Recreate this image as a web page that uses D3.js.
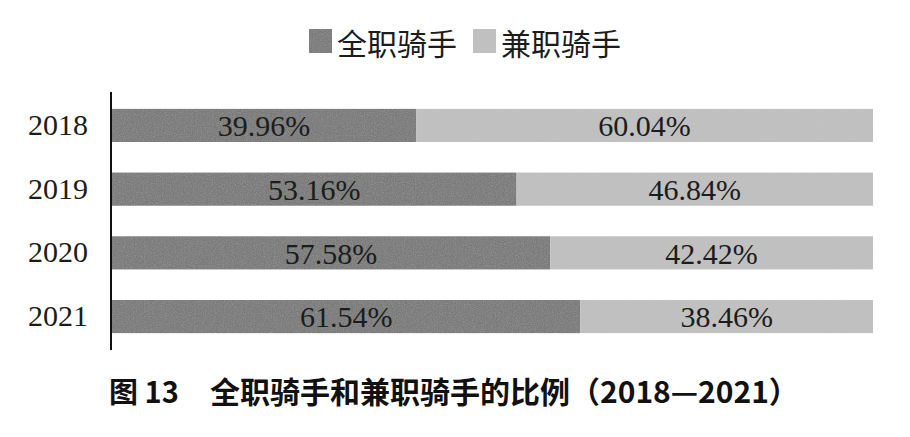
<!DOCTYPE html>
<html>
<head>
<meta charset="utf-8">
<script src="https://cdn.jsdelivr.net/npm/d3@7"></script>
<style>
  body { margin: 0; background: #fff; }
  svg { display: block; }
</style>
</head>
<body>
<svg id="chart" width="910" height="437"></svg>
<script>
// data
var years = ['2018', '2019', '2020', '2021'];
var fullTime = [39.96, 53.16, 57.58, 61.54];
var partTime = [60.04, 46.84, 42.42, 38.46];
var seriesNames = ['全职骑手', '兼职骑手'];
var seriesColors = ['#7a7a7a', '#c1c1c1'];
var captionNo = '图 13';
var captionText = '全职骑手和兼职骑手的比例（2018—2021）';

var svg = d3.select('#chart');

// scan-like grain
var defs = svg.append('defs');
var grain = defs.append('filter').attr('id', 'grain')
    .attr('x', 0).attr('y', 0).attr('width', 1).attr('height', 1);
grain.append('feTurbulence')
    .attr('type', 'fractalNoise')
    .attr('baseFrequency', 0.9)
    .attr('numOctaves', 2)
    .attr('seed', 3)
    .attr('result', 'noise');
grain.append('feColorMatrix')
    .attr('in', 'noise')
    .attr('type', 'matrix')
    .attr('values', '0 0 0 0 0.5  0 0 0 0 0.5  0 0 0 0 0.5  0.35 0.35 0.35 0 -0.45')
    .attr('result', 'speck');
grain.append('feComposite')
    .attr('in', 'speck')
    .attr('in2', 'SourceGraphic')
    .attr('operator', 'in')
    .attr('result', 'speckIn');
grain.append('feMerge').selectAll('feMergeNode')
    .data(['SourceGraphic', 'speckIn'])
    .enter().append('feMergeNode')
    .attr('in', function (d) { return d; });

var x = d3.scaleLinear().domain([0, 100]).range([112, 873]);
var y = d3.scaleBand().domain(years).range([92, 350])
    .paddingInner(0.48).paddingOuter(0.265);

var rows = years.map(function (yr, i) {
    return { year: yr, values: [fullTime[i], partTime[i]] };
});

var stacked = [];
rows.forEach(function (r) {
    var start = 0;
    r.values.forEach(function (v, k) {
        stacked.push({ year: r.year, k: k, x0: start, x1: start + v, v: v });
        start += v;
    });
});

/*============ BARS ============*/

svg.append('g').attr('class', 'bars')
    .selectAll('rect')
    .data(stacked)
    .enter().append('rect')
    .attr('x', function (d) { return x(d.x0); })
    .attr('y', function (d) { return y(d.year); })
    .attr('width', function (d) { return x(d.x1) - x(d.x0); })
    .attr('height', y.bandwidth())
    .attr('fill', function (d) { return seriesColors[d.k]; })
    .attr('filter', 'url(#grain)');

svg.append('g').attr('class', 'values')
    .selectAll('text')
    .data(stacked)
    .enter().append('text')
    .attr('x', function (d) { return (x(d.x0) + x(d.x1)) / 2; })
    .attr('y', function (d) { return y(d.year) + y.bandwidth() / 2; })
    .attr('dy', '0.36em')
    .attr('text-anchor', 'middle')
    .style('font-family', '"Liberation Serif", "Times New Roman", serif')
    .style('font-size', '30px')
    .attr('fill', '#1c1c1c')
    .text(function (d) { return d.v.toFixed(2) + '%'; });

/*============ AXIS ============*/

var yAxis = svg.append('g')
    .attr('transform', 'translate(111,0)')
    .call(d3.axisLeft(y).tickSize(0).tickPadding(23));

yAxis.select('.domain')
    .attr('d', 'M0,92V350')
    .attr('stroke', '#111')
    .attr('stroke-width', 2);

yAxis.selectAll('text')
    .style('font-family', '"Liberation Serif", "Times New Roman", serif')
    .style('font-size', '30px')
    .attr('fill', '#1c1c1c');

/*============ LEGEND ============*/

var legendX = [309, 473];
var legend = svg.append('g').attr('class', 'legend')
    .selectAll('g')
    .data(seriesNames)
    .enter().append('g')
    .attr('transform', function (d, i) { return 'translate(' + legendX[i] + ',29)'; });

legend.append('rect')
    .attr('width', 23)
    .attr('height', 24)
    .attr('fill', function (d, i) { return seriesColors[i]; })
    .attr('filter', 'url(#grain)');

legend.append('text')
    .attr('x', 28)
    .attr('y', 15)
    .attr('dy', '0.36em')
    .style('font-family', '"Noto Sans CJK SC", sans-serif')
    .style('font-size', '30px')
    .attr('fill', '#1c1c1c')
    .text(function (d) { return d; });

/*============ CAPTION ============*/

var cap = svg.append('g').attr('class', 'caption')
    .style('font-family', '"Noto Sans CJK SC", sans-serif')
    .style('font-weight', 'bold')
    .attr('fill', '#111');

cap.append('text').attr('x', 109).attr('y', 403)
    .style('font-size', '29px').text(captionNo);
cap.append('text').attr('x', 210).attr('y', 403)
    .style('font-size', '30px').text(captionText);
</script>
</body>
</html>
